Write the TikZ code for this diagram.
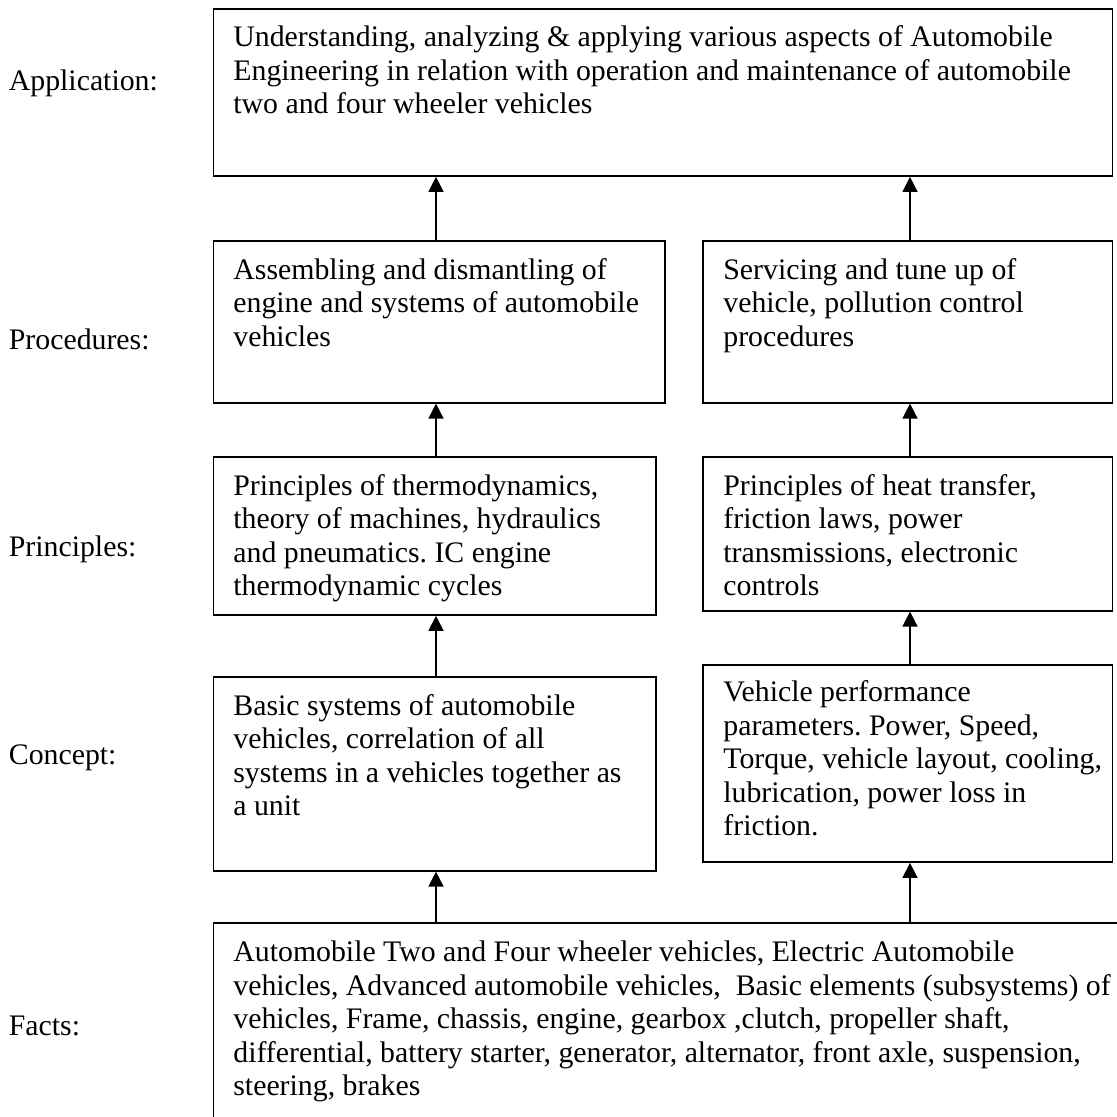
\documentclass[tikz,border=0pt]{standalone}
\usepackage{fontspec}
\setmainfont{Liberation Serif}
\usetikzlibrary{arrows.meta,fit}
\frenchspacing
\tikzset{
  box/.style={draw, line width=0.85pt, inner sep=0pt, rectangle},
  txt/.style={inner sep=0pt, anchor=base west, font=\fontsize{14.9}{16.75}\selectfont},
  lbl/.style={inner sep=0pt, anchor=base west, font=\fontsize{14.9}{16.75}\selectfont},
  arr/.style={line width=0.7pt, -{Triangle[length=7.5pt,width=7.5pt]}},
}
\newcommand{\lines}[1]{\begin{tabular}[t]{@{}l@{}}#1\end{tabular}}
\begin{document}
\begin{tikzpicture}[x=0.5pt,y=-0.5pt]
\useasboundingbox (0,0) rectangle (1117,1116);
\clip (0,0) rectangle (1117,1116);

% boxes
\node[box, fit={(213.5,9) (1112.5,176)}] (app) {};
\node[box, fit={(213.5,240.7) (665,402.7)}] (pl) {};
\node[box, fit={(703,240.7) (1112.5,402.7)}] (pr) {};
\node[box, fit={(213.5,457) (656,615)}] (ql) {};
\node[box, fit={(703,457) (1112.5,610.7)}] (qr) {};
\node[box, fit={(213.5,676.7) (656,870.7)}] (cl) {};
\node[box, fit={(703,665) (1112.5,862)}] (cr) {};
\node[box, fit={(213.5,923) (1140,1140)}] (facts) {};

% texts
\node[txt] (tapp) at (233,46.7) {\lines{Understanding, analyzing \& applying various aspects of Automobile\\
Engineering in relation with operation and maintenance of automobile\\
two and four wheeler vehicles}};
\node[txt] (tpl) at (233,279) {\lines{Assembling and dismantling of\\
engine and systems of automobile\\
vehicles}};
\node[txt] (tpr) at (723,279) {\lines{Servicing and tune up of\\
vehicle, pollution control\\
procedures}};
\node[txt] (tql) at (233,495) {\lines{Principles of thermodynamics,\\
theory of machines, hydraulics\\
and pneumatics. IC engine\\
thermodynamic cycles}};
\node[txt] (tqr) at (723,495) {\lines{Principles of heat transfer,\\
friction laws, power\\
transmissions, electronic\\
controls}};
\node[txt] (tcl) at (233,715) {\lines{Basic systems of automobile\\
vehicles, correlation of all\\
systems in a vehicles together as\\
a unit}};
\node[txt] (tcr) at (723,701.7) {\lines{Vehicle performance\\
parameters. Power, Speed,\\
Torque, vehicle layout, cooling,\\
lubrication, power loss in\\
friction.}};
\node[txt] (tfacts) at (233,961.7) {\lines{Automobile Two and Four wheeler vehicles, Electric Automobile\\
vehicles, Advanced automobile vehicles,\ \ Basic elements (subsystems) of\\
vehicles, Frame, chassis, engine, gearbox ,clutch, propeller shaft,\\
differential, battery starter, generator, alternator, front axle, suspension,\\
steering, brakes}};

% level labels
\node[lbl] (lapp) at (8.5,90) {Application:};
\node[lbl] (lproc) at (8.5,349) {Procedures:};
\node[lbl] (lprin) at (8.5,556) {Principles:};
\node[lbl] (lconc) at (8.5,764) {Concept:};
\node[lbl] (lfact) at (8.5,1035) {Facts:};

% connectors
\coordinate (xl) at (436,0);
\coordinate (xr) at (910,0);
\draw[arr] (pl.north -| xl) -- (app.south -| xl);
\draw[arr] (pr.north -| xr) -- (app.south -| xr);
\draw[arr] (ql.north -| xl) -- (pl.south -| xl);
\draw[arr] (qr.north -| xr) -- (pr.south -| xr);
\draw[arr] (cl.north -| xl) -- (ql.south -| xl);
\draw[arr] (cr.north -| xr) -- (qr.south -| xr);
\draw[arr] (facts.north -| xl) -- (cl.south -| xl);
\draw[arr] (facts.north -| xr) -- (cr.south -| xr);
\end{tikzpicture}
\end{document}
